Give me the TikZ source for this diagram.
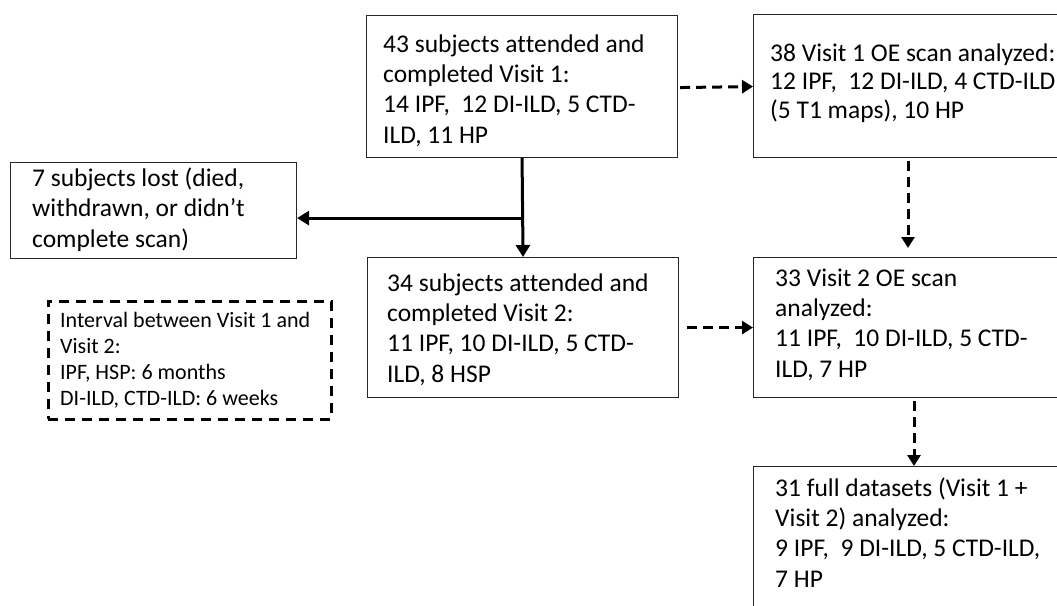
\documentclass[tikz,border=0pt]{standalone}
\usepackage{fontspec}
\setmainfont{Carlito}[Ligatures=NoCommon]
\usetikzlibrary{calc,arrows.meta}
\newcommand\noligtt{t\kern0pt t}
\begin{document}
\begin{tikzpicture}[x=1pt,y=-1pt,
  box/.style={draw=black!85,line width=1.1pt,anchor=north west,inner sep=0pt},
  txt/.style={anchor=base west,inner sep=0pt,align=left,font=\fontsize{25.5}{30.3}\selectfont},
  smalltxt/.style={anchor=base west,inner sep=0pt,align=left,font=\fontsize{22}{26}\selectfont},
  solidarrow/.style={line width=3pt,-{Triangle[length=12pt,width=14pt]}},
  dasharrow/.style={line width=3pt,dash pattern=on 10pt off 6pt,-{Triangle[length=11pt,width=13pt]}},
  dashbox/.style={draw,line width=2.6pt,dash pattern=on 10pt off 7pt,anchor=north west,inner sep=0pt}
]
\useasboundingbox (0,0) rectangle (1057,605);
% boxes
\node[box,minimum width=311pt,minimum height=142pt] (A) at (366,15) {};
\node[box,minimum width=330pt,minimum height=143pt] (B) at (753,14) {};
\node[box,minimum width=286pt,minimum height=96pt] (L) at (10,162) {};
\node[dashbox,minimum width=283pt,minimum height=118pt] (I) at (47,300) {};
\node[box,minimum width=311pt,minimum height=140pt] (C) at (367,257) {};
\node[box,minimum width=330pt,minimum height=140pt] (D) at (753,257) {};
\node[box,minimum width=330pt,minimum height=170pt] (E) at (753,466) {};
% texts (anchored at the baseline of the last line)
\node[txt] (At) at ($(A.north west)+(17,128)$) {43 subjects a\noligtt ended and\\completed Visit 1:\\14 IPF,\ \ 12 DI-ILD, 5 CTD-\\ILD, 11 HP};
\node[txt,font=\fontsize{25.5}{28.3}\selectfont] (Bt) at ($(B.north west)+(17,104)$) {38 Visit 1 OE scan analyzed:\\12 IPF,\ \ 12 DI-ILD, 4 CTD-ILD\\(5 T1 maps), 10 HP};
\node[txt] (Lt) at ($(L.north west)+(22,85)$) {7 subjects lost (died,\\withdrawn, or didn’t\\complete scan)};
\node[smalltxt] (It) at ($(I.north west)+(13,105)$) {Interval between Visit 1 and\\Visit 2:\\IPF, HSP: 6 months\\DI-ILD, CTD-ILD: 6 weeks};
\node[txt] (Ct) at ($(C.north west)+(20,125)$) {34 subjects a\noligtt ended and\\completed Visit 2:\\11 IPF, 10 DI-ILD, 5 CTD-\\ILD, 8 HSP};
\node[txt] (Dt) at ($(D.north west)+(22,120)$) {33 Visit 2 OE scan\\analyzed:\\11 IPF,\ \ 10 DI-ILD, 5 CTD-\\ILD, 7 HP};
\node[txt] (Et) at ($(E.north west)+(22,121)$) {31 full datasets (Visit 1 +\\Visit 2) analyzed:\\9 IPF,\ \ 9 DI-ILD, 5 CTD-ILD,\\7 HP};
% connectors
\coordinate (j) at ($(A.south)+(0,60)$);
\draw[solidarrow] (A.south) -- (C.north);
\draw[solidarrow] (j) -- (j -| L.east);
\draw[dasharrow] ($(A.east)+(2,1)$) -- (A.east -| B.west);
\draw[dasharrow] ($(C.east)+(8,0)$) -- (C.east -| D.west);
\draw[dasharrow] ($(B.south west)+(155,3)$) -- ($(D.north west)+(155,-9)$);
\draw[dasharrow] ($(D.south west)+(161,3)$) -- ($(E.north west)+(161,0)$);
\end{tikzpicture}
\end{document}
